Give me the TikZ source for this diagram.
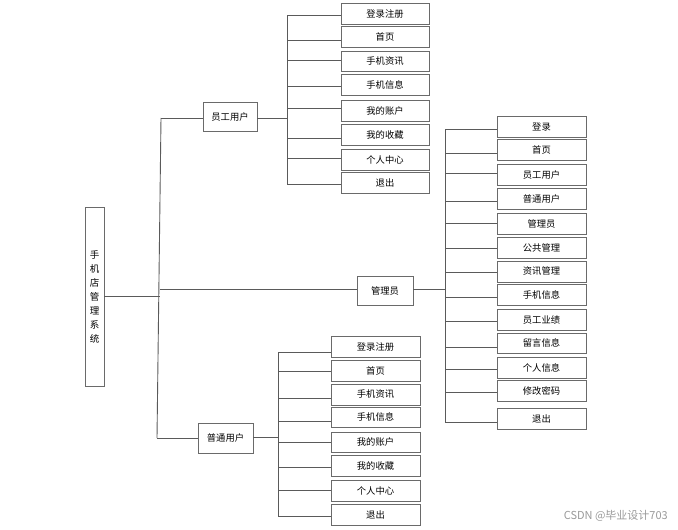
\documentclass[tikz,border=0pt]{standalone}
\usepackage{fontspec}
\setmainfont{Noto Sans CJK SC}
\definecolor{boxc}{HTML}{6A6A6A}
\definecolor{lnc}{HTML}{5A5A5A}
\begin{document}
\begin{tikzpicture}[x=1pt,y=-1pt,
  box/.style={draw=boxc, line width=1pt, inner sep=0pt, outer sep=0pt, font=\fontsize{9.3}{10}\selectfont, text=black},
  ln/.style={draw=lnc, line width=0.9pt}]
\useasboundingbox (0,0) rectangle (678,530);
\newcommand\bx[6]{\node[box, minimum width={(#4-#2)*1pt}, minimum height={(#5-#3)*1pt}] (#1) at ({(#2+#4)/2},{(#3+#5)/2}) {#6};}
\newcommand\br[3]{\draw[ln] (#1,#3) -- (#2.west |- 0,#3);}
% root
\bx{root}{85}{207}{104}{386}{}
\node[font=\fontsize{9.5}{14}\selectfont, align=center, inner sep=0pt] (roottxt) at (root.center) {手\\机\\店\\管\\理\\系\\统};
% level 1
\bx{emp}{203}{102}{257}{131}{员工用户}
\bx{adm}{357}{276}{413}{305}{管理员}
\bx{ord}{198}{423}{253}{453}{普通用户}
% employee group
\bx{e1}{341}{3}{429}{24}{登录注册}
\bx{e2}{341}{26}{429}{47}{首页}
\bx{e3}{341}{51}{429}{71}{手机资讯}
\bx{e4}{341}{74}{429}{95}{手机信息}
\bx{e5}{341}{100}{429}{121}{我的账户}
\bx{e6}{341}{124}{429}{145}{我的收藏}
\bx{e7}{341}{149}{429}{170}{个人中心}
\bx{e8}{341}{172}{429}{193}{退出}
% admin group
\bx{a1}{497}{116}{586}{137}{登录}
\bx{a2}{497}{139}{586}{160}{首页}
\bx{a3}{497}{164}{586}{185}{员工用户}
\bx{a4}{497}{188}{586}{209}{普通用户}
\bx{a5}{497}{213}{586}{234}{管理员}
\bx{a6}{497}{237}{586}{258}{公共管理}
\bx{a7}{497}{261}{586}{282}{资讯管理}
\bx{a8}{497}{284}{586}{305}{手机信息}
\bx{a9}{497}{309}{586}{330}{员工业绩}
\bx{a10}{497}{333}{586}{353}{留言信息}
\bx{a11}{497}{357}{586}{378}{个人信息}
\bx{a12}{497}{380}{586}{401}{修改密码}
\bx{a13}{497}{408}{586}{429}{退出}
% ordinary group
\bx{b1}{331}{336}{420}{357}{登录注册}
\bx{b2}{331}{360}{420}{381}{首页}
\bx{b3}{331}{384}{420}{405}{手机资讯}
\bx{b4}{331}{407}{420}{427}{手机信息}
\bx{b5}{331}{432}{420}{452}{我的账户}
\bx{b6}{331}{455}{420}{476}{我的收藏}
\bx{b7}{331}{480}{420}{501}{个人中心}
\bx{b8}{331}{504}{420}{525}{退出}
% main trunk
\draw[ln] (161,118) -- (157,438);
\draw[ln] (root.east) -- (160,296.5);
\draw[ln] (161,118) -- (emp.west |- 0,118);
\draw[ln] (160,289) -- (adm.west |- 0,289);
\draw[ln] (157,438) -- (ord.west |- 0,438);
% employee branches
\draw[ln] (emp.east |- 0,118) -- (287,118);
\draw[ln] (287,15) -- (287,184);
\br{287}{e1}{15}\br{287}{e2}{40}\br{287}{e3}{60}\br{287}{e4}{86}
\br{287}{e5}{108}\br{287}{e6}{138}\br{287}{e7}{158}\br{287}{e8}{184}
% admin branches
\draw[ln] (adm.east |- 0,289) -- (445,289);
\draw[ln] (445,129) -- (445,422);
\br{445}{a1}{129}\br{445}{a2}{153}\br{445}{a3}{173}\br{445}{a4}{201}
\br{445}{a5}{223}\br{445}{a6}{248}\br{445}{a7}{272}\br{445}{a8}{297}
\br{445}{a9}{321}\br{445}{a10}{347}\br{445}{a11}{369}\br{445}{a12}{392}
\br{445}{a13}{422}
% ordinary branches
\draw[ln] (ord.east |- 0,437) -- (278,437);
\draw[ln] (278,352) -- (278,516);
\br{278}{b1}{352}\br{278}{b2}{371}\br{278}{b3}{398}\br{278}{b4}{421}
\br{278}{b5}{442}\br{278}{b6}{467}\br{278}{b7}{490}\br{278}{b8}{516}
% watermark
\node[anchor=east, text=black!40, font=\fontsize{11}{12}\selectfont, inner sep=0pt] (wm) at (668,516) {CSDN @毕业设计703};
\end{tikzpicture}
\end{document}
